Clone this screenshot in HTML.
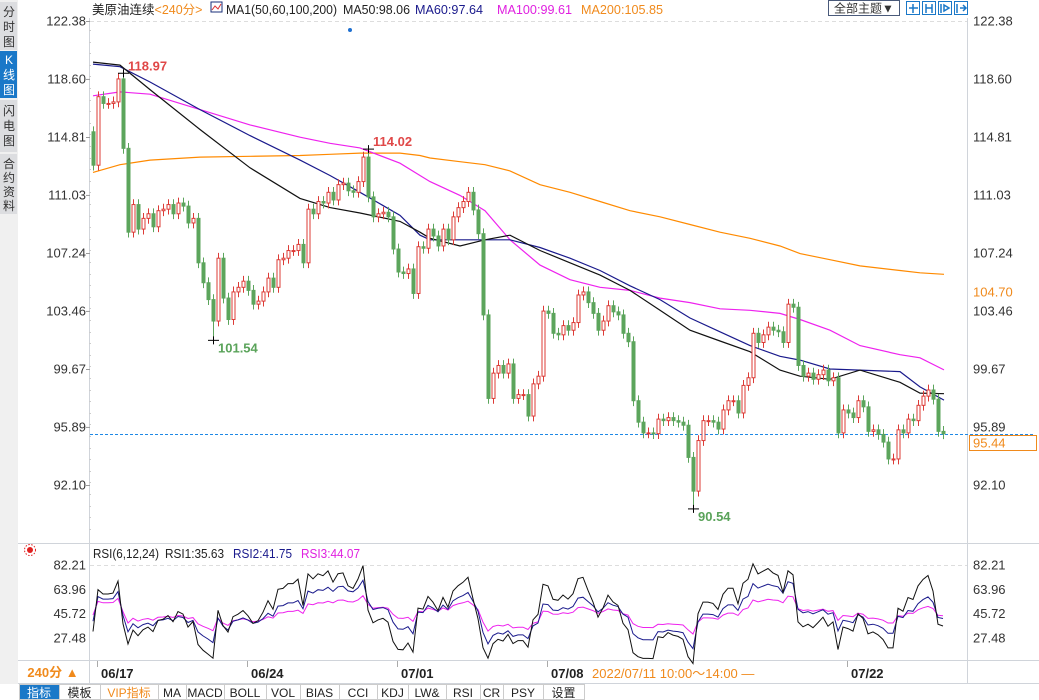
<!DOCTYPE html>
<html><head><meta charset="utf-8">
<style>
html,body{margin:0;padding:0;background:#fff;}
body{width:1039px;height:700px;overflow:hidden;position:relative;font-family:"Liberation Sans","Noto Sans CJK SC",sans-serif;}
svg{position:absolute;left:0;top:0;}
text{font-family:"Liberation Sans","Noto Sans CJK SC",sans-serif;}
</style></head><body>
<svg id="chart" width="1039" height="700" viewBox="0 0 1039 700">
  <g>
    <rect x="0" y="0" width="18" height="684" fill="#f0f0f0"/>
    <rect x="0" y="2" width="17" height="48" fill="#dcdde0"/>
    <text x="9" y="16" font-size="12" text-anchor="middle" fill="#333">分</text>
    <text x="9" y="31" font-size="12" text-anchor="middle" fill="#333">时</text>
    <text x="9" y="46" font-size="12" text-anchor="middle" fill="#333">图</text>
    <rect x="0" y="51" width="17" height="47" fill="#1a78c8"/>
    <text x="9" y="64" font-size="12" text-anchor="middle" fill="#fff">K</text>
    <text x="9" y="79" font-size="12" text-anchor="middle" fill="#fff">线</text>
    <text x="9" y="94" font-size="12" text-anchor="middle" fill="#fff">图</text>
    <rect x="0" y="100" width="17" height="52" fill="#dcdde0"/>
    <text x="9" y="115" font-size="12" text-anchor="middle" fill="#333">闪</text>
    <text x="9" y="130" font-size="12" text-anchor="middle" fill="#333">电</text>
    <text x="9" y="145" font-size="12" text-anchor="middle" fill="#333">图</text>
    <rect x="0" y="154" width="17" height="60" fill="#dcdde0"/>
    <text x="9" y="168" font-size="12" text-anchor="middle" fill="#333">合</text>
    <text x="9" y="182" font-size="12" text-anchor="middle" fill="#333">约</text>
    <text x="9" y="196" font-size="12" text-anchor="middle" fill="#333">资</text>
    <text x="9" y="210" font-size="12" text-anchor="middle" fill="#333">料</text>
  </g>
  <g font-size="12.5">
    <text x="92" y="14"><tspan fill="#222">美原油连续</tspan><tspan fill="#f08a1c">&lt;240分&gt;</tspan></text>
    <rect x="211" y="2" width="11" height="10" fill="#fff" stroke="#1a2f7a"/>
    <polyline points="212,10 215,6 218,9 221,4" fill="none" stroke="#d33" stroke-width="1"/>
    <text x="226" y="14" fill="#222" textLength="111" lengthAdjust="spacingAndGlyphs">MA1(50,60,100,200)</text>
    <text x="343" y="14" fill="#222" textLength="67" lengthAdjust="spacingAndGlyphs">MA50:98.06</text>
    <text x="415" y="14" fill="#1a1a8c" textLength="68" lengthAdjust="spacingAndGlyphs">MA60:97.64</text>
    <text x="497" y="14" fill="#e020e0" textLength="75" lengthAdjust="spacingAndGlyphs">MA100:99.61</text>
    <text x="581" y="14" fill="#f08a1c" textLength="82" lengthAdjust="spacingAndGlyphs">MA200:105.85</text>
    <rect x="828.5" y="0.5" width="71" height="15" fill="#fff" stroke="#4a5a7a"/>
    <text x="864" y="12.5" font-size="12" text-anchor="middle" fill="#333">全部主题▼</text>
    <g fill="#fff" stroke="#1a78c8">
      <rect x="906.5" y="1.5" width="13" height="13"/>
      <rect x="922.5" y="1.5" width="13" height="13"/>
      <rect x="938.5" y="1.5" width="13" height="13"/>
      <rect x="954.5" y="1.5" width="13" height="13"/>
    </g>
    <g stroke="#1a78c8" stroke-width="1.5" fill="none">
      <path d="M913 4v9M909 8h9"/><path d="M926 4v9M932 4v9M926 8h6"/><path d="M941 4v9M944 5l5 3-5 3z"/><path d="M957 4v9M960 8h6M963 5l3 3-3 3"/>
    </g>
  </g>
  <g stroke="#d0d4da" fill="none">
    <line x1="89.5" y1="18" x2="89.5" y2="684"/>
    <line x1="967.5" y1="18" x2="967.5" y2="684"/>
    <line x1="18" y1="543.5" x2="1039" y2="543.5"/>
    <line x1="18" y1="660.5" x2="1039" y2="660.5"/>
    <line x1="18" y1="683.5" x2="1039" y2="683.5"/>
    <line x1="90" y1="21.5" x2="967" y2="21.5" stroke="#ddd" stroke-dasharray="4,3"/>
    <line x1="90" y1="565.5" x2="967" y2="565.5" stroke="#ddd" stroke-dasharray="4,3"/>
  </g>
  <g id="axes"></g>
  <g id="mas"></g>
  <g id="candles"></g>
  <g id="annots"></g>
  <g id="rsi"></g>
  <g font-size="12.5">
    <circle cx="30" cy="550" r="3" fill="#e02020"/>
    <circle cx="30" cy="550" r="5.5" fill="none" stroke="#e02020" stroke-dasharray="1.5,1.5"/>
    <text x="93" y="558" fill="#222" textLength="66" lengthAdjust="spacingAndGlyphs">RSI(6,12,24)</text>
    <text x="165" y="558" fill="#222" textLength="59" lengthAdjust="spacingAndGlyphs">RSI1:35.63</text>
    <text x="233" y="558" fill="#1a1a8c" textLength="59" lengthAdjust="spacingAndGlyphs">RSI2:41.75</text>
    <text x="301" y="558" fill="#e020e0" textLength="59" lengthAdjust="spacingAndGlyphs">RSI3:44.07</text>
  </g>
  <g>
    <rect x="18" y="661" width="71" height="22" fill="#fff"/>
    <text x="53" y="677" font-size="13" font-weight="bold" text-anchor="middle" fill="#f08a1c">240分 ▲</text>
    <g stroke="#aaa"><line x1="97.5" y1="661" x2="97.5" y2="667"/><line x1="247.5" y1="661" x2="247.5" y2="667"/><line x1="397.5" y1="661" x2="397.5" y2="667"/><line x1="547.5" y1="661" x2="547.5" y2="667"/><line x1="847.5" y1="661" x2="847.5" y2="667"/></g>
    <g font-size="13" font-weight="bold" fill="#222">
      <text x="101" y="678">06/17</text><text x="251" y="678">06/24</text><text x="401" y="678">07/01</text><text x="551" y="678">07/08</text><text x="851" y="678">07/22</text>
    </g>
    <text x="592" y="678" font-size="13" fill="#f08a1c">2022/07/11 10:00～14:00 —</text>
  </g>
  <g id="toolbar"></g>
</svg>
<script>
const closes = [112.97,117.44,117.0,117.0,117.1,118.6,114.07,108.6,110.4,108.8,109.5,109.8,108.95,110.0,110.1,110.4,109.8,110.5,110.3,109.2,109.5,106.6,105.3,104.2,102.8,106.9,104.3,102.9,104.7,105.0,105.4,104.8,103.9,104.1,104.7,105.6,105.0,106.8,106.9,107.4,107.4,107.8,106.6,110.1,109.8,110.6,110.5,111.2,110.7,111.7,111.8,111.3,111.2,111.9,113.5,110.9,109.6,109.8,109.9,109.6,107.5,106.0,105.9,106.2,104.6,107.65,107.55,108.8,108.35,107.7,108.8,108.1,109.6,110.2,110.6,111.2,110.05,108.5,103.2,97.75,99.4,99.9,99.4,100.0,97.75,98.0,98.0,96.6,98.7,99.2,103.45,103.3,102.0,101.9,102.5,102.2,102.7,104.5,104.7,104.0,103.3,102.2,102.8,103.8,103.4,103.2,102.0,101.45,97.6,96.2,95.5,95.5,95.45,96.4,96.3,96.5,96.3,96.2,96.0,93.9,91.7,95.0,96.3,96.3,96.2,95.75,97.0,97.6,97.6,96.8,98.6,99.1,102.0,101.4,101.9,102.4,102.2,102.1,101.4,103.9,103.7,99.9,99.2,99.4,99.0,99.3,99.6,98.9,99.1,95.5,97.0,96.8,96.5,97.6,97.2,95.6,95.7,95.4,94.9,93.8,93.8,95.7,95.5,96.4,96.3,97.3,97.9,98.3,97.7,95.6,95.44];
const firstOpen = 115.15;
const extremeIdx = [6, 24, 55, 120];
const extremeVal = [118.97, 101.54, 114.02, 90.54];
const extremeHigh = [true, false, true, false];
const maIdx = [0,5.4,11.4,21.4,31.4,41.4,47.4,53.4,61.4,65.4,67.4,73.4,78.4,83.4,89.4,95.4,101.4,107.4,113.4,119.4,125.4,131.4,137.4,141.4,147.4,153.4,161.4,165.4,170.2];
const ma50 = [119.7,119.5,117.9,115.3,112.8,110.8,110.2,109.85,109.3,108.6,108.2,107.7,108.1,108.4,107.4,106.6,105.8,104.8,103.5,102.2,101.5,100.8,99.6,99.2,99.0,99.6,98.8,98.1,98.06];
const ma60 = [119.57,119.4,118.4,116.6,114.9,113.3,112.3,111.2,109.7,108.4,108.1,108.1,108.1,108.1,107.6,106.9,106.1,105.1,104.2,103.0,102.1,101.2,100.5,100.25,99.67,99.6,99.5,98.5,97.64];
const ma100 = [117.5,117.75,117.6,116.6,115.6,114.8,114.4,114.1,113.1,112.3,111.9,111.0,110.0,108.1,106.45,105.5,105.0,104.8,104.3,104.0,103.6,103.5,103.3,102.9,102.2,101.2,100.6,100.4,99.61];
const ma200 = [112.5,113.0,113.3,113.5,113.55,113.6,113.68,113.76,113.76,113.6,113.44,113.2,113.0,112.6,111.7,111.2,110.6,110.0,109.6,109.1,108.6,108.2,107.7,107.2,106.8,106.4,106.1,105.95,105.85];
const priceTicks = [122.38,118.60,114.81,111.03,107.24,103.46,99.67,95.89,92.10];
const rsiTicks = [82.21,63.96,45.72,27.48];
const lastPrice = 95.44;
const hoverPrice = 104.70;
const toolbarLabels = ["指标","模板","VIP指标","MA","MACD","BOLL","VOL","BIAS","CCI","KDJ","LW&","RSI","CR","PSY","设置"];
const toolbarEdges = [19,59,100,158,186,224,266,300,339,377,408,446,480,503,543,584];

const NS="http://www.w3.org/2000/svg";
const xOf = i => 93 + 5*i;
const yP = p => 21 + (122.38 - p) * (464/30.28);
const yR = v => 565 + (82.21 - v) * (73/54.73);
function mk(tag, attrs, parent){const e=document.createElementNS(NS,tag);for(const k in attrs)e.setAttribute(k,attrs[k]);parent.appendChild(e);return e;}

const ax=document.getElementById('axes');
priceTicks.forEach((p)=>{
  const y=yP(p);
  const l=mk('text',{x:86,y:y+4.5,'font-size':13,'text-anchor':'end',fill:'#333'},ax); l.textContent=p.toFixed(2);
  
  
  const r=mk('text',{x:973,y:y+4.5,'font-size':13,fill:'#333'},ax); r.textContent=p.toFixed(2);
  
  
  mk('line',{x1:86,y1:y+0.5,x2:90,y2:y+0.5,stroke:'#999'},ax);
});
for(let y=30;y<540;y+=11.6){mk('line',{x1:89,y1:Math.round(y)+0.5,x2:91,y2:Math.round(y)+0.5,stroke:'#ccc'},ax);}
rsiTicks.forEach((v)=>{
  const y=yR(v);
  const l=mk('text',{x:86,y:y+4.5,'font-size':13,'text-anchor':'end',fill:'#333'},ax); l.textContent=v.toFixed(2);
  
  
  const r=mk('text',{x:973,y:y+4.5,'font-size':13,fill:'#333'},ax); r.textContent=v.toFixed(2);
  
  
});
const ly=Math.round(yP(lastPrice))+0.5;
const lpl=mk('line',{x1:90,y1:ly,x2:1035,y2:ly,stroke:'#1e88e5','stroke-dasharray':'3,2'},ax);


const lpb=mk('rect',{x:969.5,y:ly+1,width:67,height:15,fill:'#fff',stroke:'#f08a1c'},ax);


const lpt=mk('text',{x:973,y:ly+13,'font-size':13,fill:'#f08a1c'},ax); lpt.textContent=lastPrice.toFixed(2);
const hy=yP(hoverPrice);
const hb=mk('rect',{x:969,y:hy-8,width:50,height:15,fill:'#fff'},ax);


const ht=mk('text',{x:973,y:hy+4.5,'font-size':13,fill:'#f08a1c'},ax); ht.textContent=hoverPrice.toFixed(2);
const dot=mk('circle',{cx:350,cy:30,r:2,fill:'#1e6fd0'},ax);



const mg=document.getElementById('mas');
[[ma200,'#ff8a00','ma200-line'],[ma100,'#ee22ee','ma100-line'],[ma60,'#1a1a8c','ma60-line'],[ma50,'#111','ma50-line']].forEach(([arr,col,name])=>{
  const pts=arr.map((v,k)=>xOf(maIdx[k]).toFixed(1)+','+yP(v).toFixed(1)).join(' ');
  const pl=mk('polyline',{points:pts,fill:'none',stroke:col,'stroke-width':1.2},mg);
  
  
});

const cg=document.getElementById('candles');
closes.forEach((c,i)=>{
  const o = i===0 ? firstOpen : closes[i-1];
  let hi=Math.max(o,c)+0.35, lo=Math.min(o,c)-0.35;
  const ei=extremeIdx.indexOf(i);
  if(ei>=0){ if(extremeHigh[ei]) hi=extremeVal[ei]; else lo=extremeVal[ei]; }
  const up=c>=o, col=up?'#dc3b36':'#5ca55c', x=xOf(i);
  const g=mk('g',{},cg);
  
  
  mk('line',{x1:x+0.5,y1:yP(hi),x2:x+0.5,y2:yP(lo),stroke:col},g);
  const yt=yP(Math.max(o,c)), yb=yP(Math.min(o,c));
  mk('rect',{x:x-1,y:yt,width:3,height:Math.max(1,yb-yt),fill:up?'#fff':col,stroke:col,'stroke-width':1},g);
});

const an=document.getElementById('annots');
extremeIdx.forEach((idx,k)=>{
  const x=xOf(idx), y=yP(extremeVal[k]), high=extremeHigh[k];
  mk('line',{x1:x-5,y1:y,x2:x+6,y2:y,stroke:'#000'},an);
  mk('line',{x1:x+0.5,y1:y-4,x2:x+0.5,y2:y+4,stroke:'#000'},an);
  const t=mk('text',{x:x+5,y:high?y-3:y+12,'font-size':13,'font-weight':'bold',fill:high?'#e04848':'#5aa35a'},an);
  t.textContent=extremeVal[k].toFixed(2);
  
  
});

function rsiSeries(N){
  let up=0.4, ab=0.8; const out=[];
  closes.forEach((c,i)=>{
    const prev = i===0 ? firstOpen : closes[i-1];
    const d=c-prev;
    up=(Math.max(d,0)+(N-1)*up)/N; ab=(Math.abs(d)+(N-1)*ab)/N;
    out.push(ab>0?up/ab*100:50);
  });
  return out;
}
const rg=document.getElementById('rsi');
[[24,'#ee22ee','rsi3-line'],[12,'#1a1a8c','rsi2-line'],[6,'#111','rsi1-line']].forEach(([N,col,name])=>{
  const s=rsiSeries(N);
  const pts=s.map((v,i)=>xOf(i)+','+yR(v).toFixed(1)).join(' ');
  const pl=mk('polyline',{points:pts,fill:'none',stroke:col,'stroke-width':1},rg);
  
  
});

const tb=document.getElementById('toolbar');
toolbarLabels.forEach((lab,k)=>{
  const x0=toolbarEdges[k], x1=toolbarEdges[k+1];
  const r=mk('rect',{x:x0+0.5,y:684.5,width:x1-x0,height:15,fill:k===0?'#1a78c8':'#fff',stroke:'#ccc'},tb);
  
  
  const t=mk('text',{x:(x0+x1)/2,y:697,'font-size':12,'text-anchor':'middle',fill:k===0?'#fff':(k===2?'#f08a1c':'#222'),'font-family':'"Liberation Mono","Noto Sans CJK SC",monospace'},tb);
  t.textContent=lab;
});
</script>
</body></html>
